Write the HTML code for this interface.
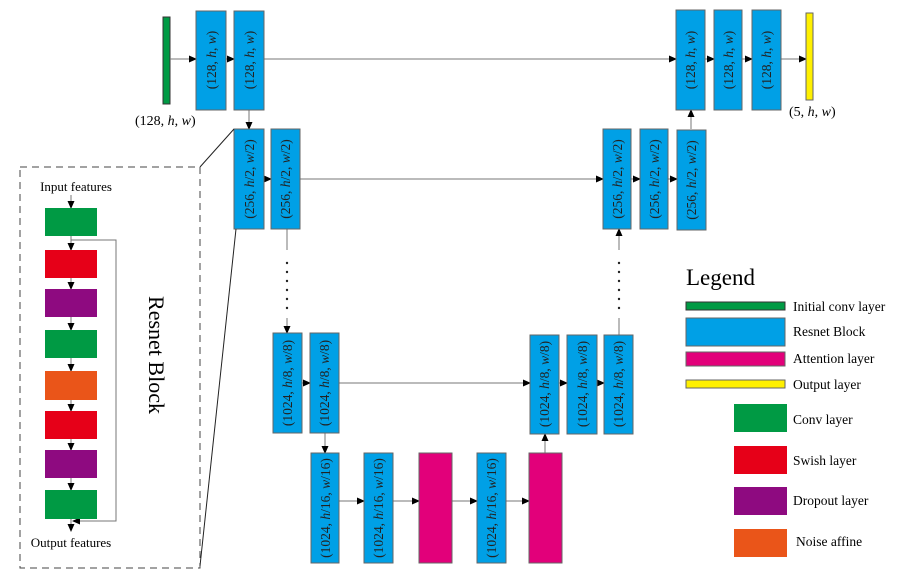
<!DOCTYPE html>
<html><head><meta charset="utf-8"><style>
body{margin:0;background:#fff}
svg{display:block;font-family:"Liberation Serif",serif}
.b{fill:#00a0e6;stroke:#666;stroke-width:1}
.t{font-size:13.5px;fill:#222}
.l{stroke:#777;stroke-width:1;fill:none}
</style></head><body>
<svg width="903" height="582" viewBox="0 0 903 582" xmlns="http://www.w3.org/2000/svg">
<defs><marker id="a" markerWidth="8" markerHeight="8" refX="7" refY="4" orient="auto" markerUnits="userSpaceOnUse"><path d="M0,0.5 L8,4 L0,7.5z" fill="#000"/></marker></defs>

<!-- row1 left -->
<rect x="163" y="17" width="7" height="87" fill="#009a44" stroke="#333"/>
<text x="135" y="125" font-size="14">(128, <tspan font-style="italic">h</tspan>, <tspan font-style="italic">w</tspan>)</text>
<g class="l">
<line x1="170" y1="59" x2="196" y2="59" marker-end="url(#a)"/>
<line x1="226" y1="59" x2="234" y2="59" marker-end="url(#a)"/>
<line x1="264" y1="59" x2="676" y2="59" marker-end="url(#a)"/>
<line x1="705" y1="59" x2="714" y2="59" marker-end="url(#a)"/>
<line x1="742" y1="59" x2="752" y2="59" marker-end="url(#a)"/>
<line x1="781" y1="59" x2="806" y2="59" marker-end="url(#a)"/>
<line x1="249" y1="110" x2="249" y2="129" marker-end="url(#a)"/>
<line x1="264" y1="179" x2="271" y2="179" marker-end="url(#a)"/>
<line x1="300" y1="179" x2="603" y2="179" marker-end="url(#a)"/>
<line x1="631" y1="179" x2="640" y2="179" marker-end="url(#a)"/>
<line x1="668" y1="179" x2="677" y2="179" marker-end="url(#a)"/>
<line x1="691" y1="129" x2="691" y2="110" marker-end="url(#a)"/>
<line x1="287" y1="229" x2="287" y2="250"/>
<line x1="287" y1="318" x2="287" y2="333" marker-end="url(#a)"/>
<line x1="619" y1="335" x2="619" y2="318"/>
<line x1="619" y1="250" x2="619" y2="229" marker-end="url(#a)"/>
<line x1="302" y1="383" x2="310" y2="383" marker-end="url(#a)"/>
<line x1="339" y1="383" x2="530" y2="383" marker-end="url(#a)"/>
<line x1="559" y1="383" x2="567" y2="383" marker-end="url(#a)"/>
<line x1="597" y1="383" x2="604" y2="383" marker-end="url(#a)"/>
<line x1="325" y1="433" x2="325" y2="453" marker-end="url(#a)"/>
<line x1="339" y1="501" x2="364" y2="501" marker-end="url(#a)"/>
<line x1="393" y1="501" x2="419" y2="501" marker-end="url(#a)"/>
<line x1="452" y1="501" x2="477" y2="501" marker-end="url(#a)"/>
<line x1="506" y1="501" x2="529" y2="501" marker-end="url(#a)"/>
<line x1="545" y1="453" x2="545" y2="434" marker-end="url(#a)"/>
</g>
<g fill="#222">
<circle cx="287" cy="263" r="1.2"/><circle cx="287" cy="272" r="1.2"/><circle cx="287" cy="281" r="1.2"/><circle cx="287" cy="290" r="1.2"/><circle cx="287" cy="299" r="1.2"/><circle cx="287" cy="308" r="1.2"/>
<circle cx="619" cy="263" r="1.2"/><circle cx="619" cy="272" r="1.2"/><circle cx="619" cy="281" r="1.2"/><circle cx="619" cy="290" r="1.2"/><circle cx="619" cy="299" r="1.2"/><circle cx="619" cy="308" r="1.2"/>
</g>

<!-- boxes -->
<g class="t">
<rect class="b" x="196" y="11" width="30" height="99"/><text transform="translate(216,60) rotate(-90)" text-anchor="middle">(128, <tspan font-style="italic">h</tspan>, <tspan font-style="italic">w</tspan>)</text>
<rect class="b" x="234" y="11" width="30" height="99"/><text transform="translate(254,60) rotate(-90)" text-anchor="middle">(128, <tspan font-style="italic">h</tspan>, <tspan font-style="italic">w</tspan>)</text>
<rect class="b" x="676" y="10" width="29" height="100"/><text transform="translate(695,60) rotate(-90)" text-anchor="middle">(128, <tspan font-style="italic">h</tspan>, <tspan font-style="italic">w</tspan>)</text>
<rect class="b" x="714" y="10" width="28" height="100"/><text transform="translate(733,60) rotate(-90)" text-anchor="middle">(128, <tspan font-style="italic">h</tspan>, <tspan font-style="italic">w</tspan>)</text>
<rect class="b" x="752" y="10" width="29" height="100"/><text transform="translate(771,60) rotate(-90)" text-anchor="middle">(128, <tspan font-style="italic">h</tspan>, <tspan font-style="italic">w</tspan>)</text>

<rect class="b" x="234" y="129" width="30" height="100"/><text transform="translate(254,179) rotate(-90)" text-anchor="middle">(256, <tspan font-style="italic">h</tspan>/2, <tspan font-style="italic">w</tspan>/2)</text>
<rect class="b" x="271" y="129" width="29" height="100"/><text transform="translate(290,179) rotate(-90)" text-anchor="middle">(256, <tspan font-style="italic">h</tspan>/2, <tspan font-style="italic">w</tspan>/2)</text>
<rect class="b" x="603" y="129" width="28" height="100"/><text transform="translate(622,179) rotate(-90)" text-anchor="middle">(256, <tspan font-style="italic">h</tspan>/2, <tspan font-style="italic">w</tspan>/2)</text>
<rect class="b" x="640" y="129" width="28" height="100"/><text transform="translate(659,179) rotate(-90)" text-anchor="middle">(256, <tspan font-style="italic">h</tspan>/2, <tspan font-style="italic">w</tspan>/2)</text>
<rect class="b" x="677" y="130" width="29" height="100"/><text transform="translate(696,180) rotate(-90)" text-anchor="middle">(256, <tspan font-style="italic">h</tspan>/2, <tspan font-style="italic">w</tspan>/2)</text>

<rect class="b" x="273" y="333" width="29" height="100"/><text transform="translate(292,383) rotate(-90)" text-anchor="middle">(1024, <tspan font-style="italic">h</tspan>/8, <tspan font-style="italic">w</tspan>/8)</text>
<rect class="b" x="310" y="333" width="29" height="100"/><text transform="translate(329,383) rotate(-90)" text-anchor="middle">(1024, <tspan font-style="italic">h</tspan>/8, <tspan font-style="italic">w</tspan>/8)</text>
<rect class="b" x="530" y="335" width="29" height="99"/><text transform="translate(549,384) rotate(-90)" text-anchor="middle">(1024, <tspan font-style="italic">h</tspan>/8, <tspan font-style="italic">w</tspan>/8)</text>
<rect class="b" x="567" y="335" width="30" height="99"/><text transform="translate(587,384) rotate(-90)" text-anchor="middle">(1024, <tspan font-style="italic">h</tspan>/8, <tspan font-style="italic">w</tspan>/8)</text>
<rect class="b" x="604" y="335" width="29" height="99"/><text transform="translate(623,384) rotate(-90)" text-anchor="middle">(1024, <tspan font-style="italic">h</tspan>/8, <tspan font-style="italic">w</tspan>/8)</text>

<rect class="b" x="311" y="453" width="28" height="110"/><text transform="translate(330,508) rotate(-90)" text-anchor="middle">(1024, <tspan font-style="italic">h</tspan>/16, <tspan font-style="italic">w</tspan>/16)</text>
<rect class="b" x="364" y="453" width="29" height="110"/><text transform="translate(383,508) rotate(-90)" text-anchor="middle">(1024, <tspan font-style="italic">h</tspan>/16, <tspan font-style="italic">w</tspan>/16)</text>
<rect x="419" y="453" width="33" height="110" fill="#e2007a" stroke="#666"/>
<rect class="b" x="477" y="453" width="29" height="110"/><text transform="translate(496,508) rotate(-90)" text-anchor="middle">(1024, <tspan font-style="italic">h</tspan>/16, <tspan font-style="italic">w</tspan>/16)</text>
<rect x="529" y="453" width="33" height="110" fill="#e2007a" stroke="#666"/>
</g>

<rect x="806" y="13" width="7" height="87" fill="#fff000" stroke="#666"/>
<text x="789" y="116" font-size="14">(5, <tspan font-style="italic">h</tspan>, <tspan font-style="italic">w</tspan>)</text>

<!-- resnet block detail -->
<rect x="20" y="167" width="180" height="401" fill="none" stroke="#444" stroke-dasharray="7,5"/>
<line x1="200" y1="167" x2="234" y2="129" stroke="#222"/>
<line x1="200" y1="566" x2="236" y2="229" stroke="#222"/>
<text x="76" y="191" font-size="13" text-anchor="middle">Input features</text>
<text x="71" y="547" font-size="13" text-anchor="middle">Output features</text>
<g class="l">
<line x1="71" y1="195" x2="71" y2="208" marker-end="url(#a)"/>
<line x1="71" y1="236" x2="71" y2="250" marker-end="url(#a)"/>
<line x1="71" y1="278" x2="71" y2="289" marker-end="url(#a)"/>
<line x1="71" y1="317" x2="71" y2="330" marker-end="url(#a)"/>
<line x1="71" y1="358" x2="71" y2="371" marker-end="url(#a)"/>
<line x1="71" y1="400" x2="71" y2="411" marker-end="url(#a)"/>
<line x1="71" y1="439" x2="71" y2="450" marker-end="url(#a)"/>
<line x1="71" y1="478" x2="71" y2="490" marker-end="url(#a)"/>
<line x1="71" y1="519" x2="71" y2="531" marker-end="url(#a)"/>
<polyline points="71,240 116,240 116,521 73,521" marker-end="url(#a)"/>
</g>
<rect x="45" y="208" width="52" height="28" fill="#009a44"/>
<rect x="45" y="250" width="52" height="28" fill="#e60018"/>
<rect x="45" y="289" width="52" height="28" fill="#8e0a80"/>
<rect x="45" y="330" width="52" height="28" fill="#009a44"/>
<rect x="45" y="371" width="52" height="29" fill="#ea5519"/>
<rect x="45" y="411" width="52" height="28" fill="#e60018"/>
<rect x="45" y="450" width="52" height="28" fill="#8e0a80"/>
<rect x="45" y="490" width="52" height="29" fill="#009a44"/>
<text transform="translate(149,355) rotate(90)" font-size="22" text-anchor="middle">Resnet Block</text>

<!-- legend -->
<text x="686" y="285" font-size="23">Legend</text>
<rect x="686" y="302" width="99" height="8" fill="#009a44" stroke="#333"/>
<rect x="686" y="318" width="99" height="28" fill="#00a0e6" stroke="#666"/>
<rect x="686" y="352" width="99" height="14" fill="#e2007a" stroke="#666"/>
<rect x="686" y="380" width="99" height="8" fill="#fff000" stroke="#666"/>
<g font-size="13.5">
<text x="793" y="311">Initial conv layer</text>
<text x="793" y="336">Resnet Block</text>
<text x="793" y="363">Attention layer</text>
<text x="793" y="389">Output layer</text>
<text x="793" y="424">Conv layer</text>
<text x="793" y="465">Swish layer</text>
<text x="793" y="505">Dropout layer</text>
<text x="796" y="546">Noise affine</text>
</g>
<rect x="734" y="404" width="53" height="28" fill="#009a44"/>
<rect x="734" y="446" width="53" height="28" fill="#e60018"/>
<rect x="734" y="487" width="53" height="28" fill="#8e0a80"/>
<rect x="734" y="529" width="53" height="28" fill="#ea5519"/>
</svg>
</body></html>
